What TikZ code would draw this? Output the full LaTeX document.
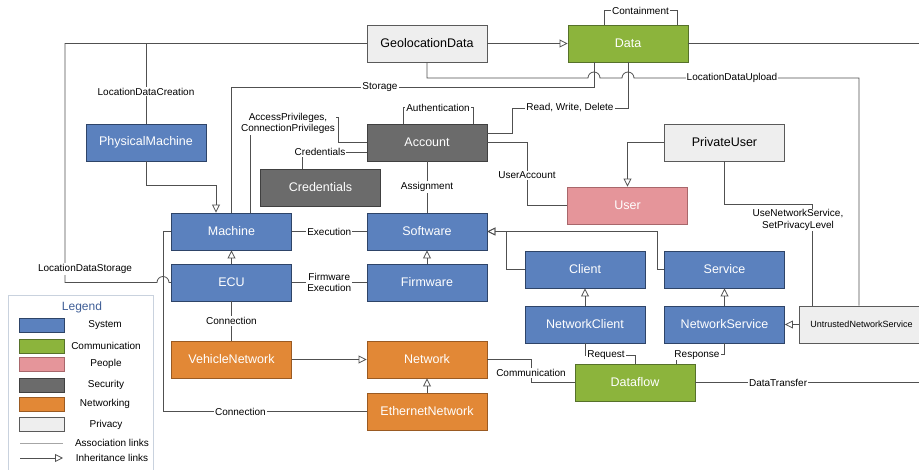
\documentclass[tikz,border=0pt]{standalone}
\usepackage{fontspec}
\setmainfont{Liberation Sans}
\usetikzlibrary{arrows.meta}

\definecolor{sysfill}{HTML}{5B81BE}
\definecolor{sysdraw}{HTML}{2E4468}
\definecolor{comfill}{HTML}{8CB43C}
\definecolor{comdraw}{HTML}{56712A}
\definecolor{pplfill}{HTML}{E5959A}
\definecolor{ppldraw}{HTML}{A8676B}
\definecolor{secfill}{HTML}{6B6B6B}
\definecolor{secdraw}{HTML}{404040}
\definecolor{netfill}{HTML}{E28836}
\definecolor{netdraw}{HTML}{9A5A22}
\definecolor{privfill}{HTML}{EEEEEE}
\definecolor{privdraw}{HTML}{5A5A5A}
\definecolor{linkgray}{HTML}{505050}
\definecolor{legendblue}{HTML}{3F5E96}
\definecolor{legendframe}{HTML}{C9D2DE}

\tikzset{
	box/.style={draw, line width=0.9pt, minimum width=120pt, minimum height=37pt, inner sep=0pt, font=\fontsize{12.5}{14}\selectfont},
	system/.style={box, fill=sysfill, draw=sysdraw, text=white},
	comm/.style={box, fill=comfill, draw=comdraw, text=white},
	people/.style={box, fill=pplfill, draw=ppldraw, text=white},
	security/.style={box, fill=secfill, draw=secdraw, text=white},
	networking/.style={box, fill=netfill, draw=netdraw, text=white},
	privacy/.style={box, fill=privfill, draw=privdraw, text=black},
	swatch/.style={draw, line width=0.9pt, minimum width=45pt, minimum height=14pt, inner sep=0pt},
	link/.style={draw=linkgray, line width=0.8pt},
	inh/.style={link, -{Triangle[open, length=8pt, width=8pt]}},
	lbl/.style={fill=white, inner sep=1pt, font=\fontsize{10}{11.5}\selectfont, align=center},
	legendtext/.style={font=\fontsize{10}{12}\selectfont}
}

\begin{document}
\begin{tikzpicture}[x=1pt, y=-1pt]
	\useasboundingbox (0,0) rectangle (919,470);

	% classes
	\node (GeolocationData) at (427,43.5) [privacy] {GeolocationData};
	\node (Data) at (628,43.5) [comm] {Data};
	\node (PhysicalMachine) at (146,142.5) [system] {PhysicalMachine};
	\node (Account) at (427,142.5) [security] {Account};
	\node (PrivateUser) at (724.5,142.5) [privacy] {PrivateUser};
	\node (Credentials) at (320.5,187.5) [security] {Credentials};
	\node (User) at (627.5,205.5) [people] {User};
	\node (Machine) at (231.5,231.5) [system] {Machine};
	\node (Software) at (427,231.5) [system] {Software};
	\node (ECU) at (231.5,282.5) [system] {ECU};
	\node (Firmware) at (427,282.5) [system] {Firmware};
	\node (Client) at (585,269.5) [system] {Client};
	\node (Service) at (724.5,269.5) [system] {Service};
	\node (NetworkClient) at (585,324.5) [system] {NetworkClient};
	\node (NetworkService) at (724.5,324.5) [system] {NetworkService};
	\node (Untrusted) at (861.5,324.5) [privacy, minimum width=125pt, font=\fontsize{9}{11}\selectfont] {UntrustedNetworkService};
	\node (VehicleNetwork) at (231.5,359.5) [networking] {VehicleNetwork};
	\node (Network) at (427,359.5) [networking] {Network};
	\node (EthernetNetwork) at (427,411.5) [networking] {EthernetNetwork};
	\node (Dataflow) at (635,382.5) [comm] {Dataflow};

	\coordinate (dataOut) at (925,43.5);
	\coordinate (flowOut) at (925,382.5);

	% associations
	\draw[link] (GeolocationData.west) -| (PhysicalMachine.north) node[lbl, pos=0.8] {LocationDataCreation};
	\draw[link] (GeolocationData.west) -| (65,282.5) -- (157,282.5) arc (180:0:6pt) -- (ECU.west)
		node[lbl] at (85,269) {LocationDataStorage};
	\draw[link] ([xshift=-24pt]Data.north) -- ++(0,-14) -| node[lbl, pos=0.25] {Containment} ([xshift=49pt]Data.north);
	\draw[link] (Data.east) -- (dataOut);
	\draw[link] (GeolocationData.south) |- (588,78) arc (180:0:6pt) -- (622,78) arc (180:0:6pt) -- (859,78) -- ([xshift=-2.5pt]Untrusted.north)
		node[lbl] at (732,78) {LocationDataUpload};
	\draw[link] (Machine.north) |- (594,87) -- ([xshift=-34pt]Data.south)
		node[lbl] at (380,87) {Storage};
	\draw[link] ([xshift=-24pt]Account.north) -- ++(0,-16) -| node[lbl, pos=0.25] {Authentication} ([xshift=46pt]Account.north);
	\draw[link] ([yshift=9.5pt]Account.east) -| (512,108) -| node[lbl, pos=0.25] {Read, Write, Delete} (Data.south);
	\draw[link] ([xshift=18.5pt]Machine.north) |- (338,117) |- (Account.west)
		node[lbl] at (288,123.5) {AccessPrivileges,\\ConnectionPrivileges};
	\draw[link] ([yshift=-9.5pt]Account.west) -| ([xshift=-18.5pt]Credentials.north)
		node[lbl] at (320,152) {Credentials};
	\draw[link] (Account.south) -- node[lbl] {Assignment} (Software.north);
	\draw[link] (Account.east) -| (527,205.5) node[lbl, pos=0.76] {UserAccount} -- (User.west);
	\draw[link] (PrivateUser.south) |- (812,204) -- ([xshift=-49.5pt]Untrusted.north)
		node[lbl] at (798,220) {UseNetworkService,\\SetPrivacyLevel};
	\draw[link] (Machine.east) -- node[lbl] {Execution} (Software.west);
	\draw[link] (ECU.east) -- node[lbl] {Firmware\\Execution} (Firmware.west);
	\draw[link] (Machine.west) -| (163,411.5) -- node[lbl, pos=0.38] {Connection} (EthernetNetwork.west);
	\draw[link] (ECU.south) -- node[lbl] {Connection} (VehicleNetwork.north);
	\draw[link] (Network.east) -| (531,382.5) -- (Dataflow.west)
		node[lbl] at (531,373) {Communication};
	\draw[link] (NetworkClient.south) |- (635,355) -- (Dataflow.north)
		node[lbl] at (606,355) {Request};
	\draw[link] (NetworkService.south) |- (676,354) -- ([xshift=41pt]Dataflow.north)
		node[lbl] at (697,355) {Response};
	\draw[link] (Dataflow.east) -- node[lbl, pos=0.36] {DataTransfer} (flowOut);

	% inheritance
	\draw[inh] (GeolocationData.east) -- (Data.west);
	\draw[inh] (PrivateUser.west) -| (User.north);
	\draw[inh] (PhysicalMachine.south) |- (216,185) -- ([xshift=-15.5pt]Machine.north);
	\draw[inh] (ECU.north) -- (Machine.south);
	\draw[inh] (Firmware.north) -- (Software.south);
	\draw[inh] (Client.west) -| (506,231.5) -- (Software.east);
	\draw[inh] (Service.west) -| (657,231.5) -- (Software.east);
	\draw[inh] (NetworkClient.north) -- (Client.south);
	\draw[inh] (NetworkService.north) -- (Service.south);
	\draw[inh] (Untrusted.west) -- (NetworkService.east);
	\draw[inh] (VehicleNetwork.east) -- (Network.west);
	\draw[inh] (EthernetNetwork.north) -- (Network.south);

	% legend
	\draw[legendframe, line width=0.8pt] (8,295) rectangle (153,474);
	\node (LegendTitle) at (82,307) [text=legendblue, font=\fontsize{12}{14}\selectfont] {Legend};
	\node (swSystem) at (41.5,325.5) [swatch, fill=sysfill, draw=sysdraw] {};
	\node (swComm) at (41.5,346) [swatch, fill=comfill, draw=comdraw] {};
	\node (swPeople) at (41.5,364) [swatch, fill=pplfill, draw=ppldraw] {};
	\node (swSecurity) at (41.5,385) [swatch, fill=secfill, draw=secdraw] {};
	\node (swNetworking) at (41.5,404) [swatch, fill=netfill, draw=netdraw] {};
	\node (swPrivacy) at (41.5,424.5) [swatch, fill=privfill, draw=privdraw] {};
	\node (ltSystem) at (105,325.5) [legendtext] {System};
	\node (ltComm) at (106,346) [legendtext] {Communication};
	\node (ltPeople) at (106,364) [legendtext] {People};
	\node (ltSecurity) at (106,385) [legendtext] {Security};
	\node (ltNetworking) at (105,404) [legendtext] {Networking};
	\node (ltPrivacy) at (106,424.5) [legendtext] {Privacy};
	\coordinate (assocA) at (20,443);
	\coordinate (assocB) at (63,443);
	\coordinate (inhA) at (20,458);
	\coordinate (inhB) at (63,458);
	\draw[draw=gray!70, line width=0.9pt] (assocA) -- (assocB);
	\draw[inh] (inhA) -- (inhB);
	\node (ltAssoc) at (112,443) [legendtext] {Association links};
	\node (ltInh) at (112,458) [legendtext] {Inheritance links};
\end{tikzpicture}
\end{document}
